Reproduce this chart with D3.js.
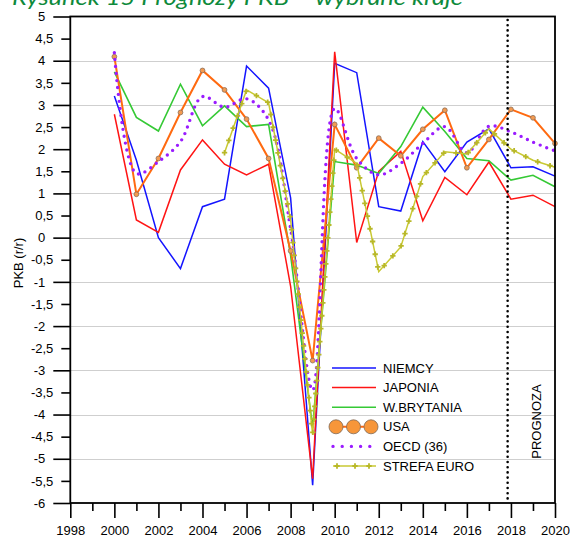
<!DOCTYPE html>
<html><head><meta charset="utf-8">
<script src="https://cdn.jsdelivr.net/npm/d3@7"></script>
<style>
html,body{margin:0;padding:0;background:#fff;}
svg{display:block;font-family:"Liberation Sans",Arial,sans-serif;}
</style></head>
<body>
<script>
// ---- data ----
const years = [2000,2001,2002,2003,2004,2005,2006,2007,2008,2009,2010,2011,2012,2013,2014,2015,2016,2017,2018,2019,2020];
const niemcy  = [3.2,1.75,0.0,-0.7,0.7,0.87,3.88,3.38,0.9,-5.6,3.94,3.73,0.7,0.6,2.17,1.49,2.16,2.46,1.58,1.6,1.39];
const japonia = [2.79,0.4,0.12,1.53,2.21,1.66,1.42,1.66,-1.1,-5.45,4.2,-0.11,1.5,1.95,0.38,1.36,0.97,1.71,0.87,0.96,0.7];
const brytania= [3.75,2.72,2.41,3.47,2.53,2.98,2.51,2.56,-0.4,-4.3,1.72,1.64,1.45,2.06,2.95,2.4,1.79,1.74,1.3,1.41,1.15];
const usa     = [4.09,0.98,1.79,2.83,3.78,3.34,2.68,1.79,-0.3,-2.78,2.56,1.58,2.25,1.85,2.45,2.88,1.58,2.22,2.9,2.71,2.13];
const oecd    = [4.18,1.45,1.72,2.17,3.19,2.95,3.14,2.66,0.2,-3.45,2.92,1.79,1.42,1.68,2.13,2.51,1.92,2.52,2.39,2.16,1.96];
const euro    = [null,null,null,null,null,1.92,3.34,3.05,0.4,-4.45,2.0,1.68,-0.77,-0.21,1.38,1.94,1.89,2.46,2.0,1.75,1.59];
const seriesNames = ["NIEMCY","JAPONIA","W.BRYTANIA","USA","OECD (36)","STREFA EURO"];
const xTicks = [1998,1999,2000,2001,2002,2003,2004,2005,2006,2007,2008,2009,2010,2011,2012,2013,2014,2015,2016,2017,2018,2019,2020];
const xLabels = [1998,2000,2002,2004,2006,2008,2010,2012,2014,2016,2018,2020];
const yMajor = [-6,-5,-4,-3,-2,-1,0,1,2,3,4,5];
const yMinor = [-5.5,-4.5,-3.5,-2.5,-1.5,-0.5,0.5,1.5,2.5,3.5,4.5];
const gridValues = [-5,-4,-3,-2,-1,0,1,3,4];
const forecastStart = 2017.85;
const title = "Rysunek 15 Prognozy PKB – wybrane kraje";
const yTitle = "PKB (r/r)";
const forecastLabel = "PROGNOZA";

// ---- layout ----
const W = 570, H = 539;
const L = 70.3, R = 555, T = 16.5, B = 503;
const svg = d3.select("body").append("svg").attr("width", W).attr("height", H);
const x = d3.scaleLinear().domain([1998, 2020]).range([L, R]);
const y = d3.scaleLinear().domain([-6, 5]).range([B, T]);
const fmt = v => String(v).replace(".", ",");

// title (cut off at top, as in the source)
svg.append("text").attr("x", 12).attr("y", 5)
  .attr("font-family", "Lato, 'Open Sans', sans-serif").attr("font-style", "italic")
  .attr("font-size", 22).attr("fill", "#0e8a3c")
  .attr("textLength", 451).attr("lengthAdjust", "spacingAndGlyphs")
  .text(title);

// grid
svg.append("g").selectAll("line").data(gridValues).join("line")
  .attr("x1", L).attr("x2", R).attr("y1", d => Math.round(y(d)) + 0.5).attr("y2", d => Math.round(y(d)) + 0.5)
  .attr("stroke", "#cfcfcf").attr("stroke-width", 1);

// y axis
const yAxMaj = svg.append("g").attr("transform", `translate(${L},0)`)
  .call(d3.axisLeft(y).tickValues(yMajor).tickSize(17).tickPadding(8).tickFormat(fmt));
const yAxMin = svg.append("g").attr("transform", `translate(${L},0)`)
  .call(d3.axisLeft(y).tickValues(yMinor).tickSize(9).tickPadding(8).tickFormat(fmt));
// x axis
const xAxMaj = svg.append("g").attr("transform", `translate(0,${B})`)
  .call(d3.axisBottom(x).tickValues(xLabels).tickSize(15).tickPadding(8).tickFormat(d3.format("d")));
const xAxMin = svg.append("g").attr("transform", `translate(0,${B})`)
  .call(d3.axisBottom(x).tickValues(xTicks.filter(t => !xLabels.includes(t))).tickSize(8).tickFormat(""));
[yAxMaj, yAxMin, xAxMaj, xAxMin].forEach(g => {
  g.select(".domain").remove();
  g.selectAll(".tick line").attr("stroke", "#000").attr("stroke-width", 1.6);
  g.selectAll(".tick text").attr("font-size", 13).attr("fill", "#000")
    .attr("font-family", "'Liberation Sans', Arial, sans-serif");
});

// y title
svg.append("text").attr("transform", `translate(23,263) rotate(-90)`)
  .attr("text-anchor", "middle").attr("font-size", 13).text(yTitle);

// series
const line = d3.line().defined(d => d[1] != null).x(d => x(d[0])).y(d => y(d[1]));
const pts = arr => years.map((yr, i) => [yr, arr[i]]);
const gS = svg.append("g");
gS.append("path").datum(pts(niemcy)).attr("d", line).attr("fill", "none").attr("stroke", "#1414ff").attr("stroke-width", 1.5);
gS.append("path").datum(pts(japonia)).attr("d", line).attr("fill", "none").attr("stroke", "#ff1414").attr("stroke-width", 1.5);
gS.append("path").datum(pts(brytania)).attr("d", line).attr("fill", "none").attr("stroke", "#35c935").attr("stroke-width", 1.6);
gS.append("path").datum(pts(usa)).attr("d", line).attr("fill", "none").attr("stroke", "#ff6a10").attr("stroke-width", 2);
gS.append("g").selectAll("circle").data(pts(usa)).join("circle")
  .attr("cx", d => x(d[0])).attr("cy", d => y(d[1])).attr("r", 2.4)
  .attr("fill", "#f39a50").attr("stroke", "#8a6f5a").attr("stroke-width", 0.8);
gS.append("path").datum(pts(oecd)).attr("d", line.curve(d3.curveCatmullRom.alpha(0.5))).attr("fill", "none")
  .attr("stroke", "#9a1cff").attr("stroke-width", 3.4).attr("stroke-linecap", "round").attr("stroke-dasharray", "0 7");
line.curve(d3.curveLinear);
const euroPath = gS.append("path").datum(pts(euro)).attr("d", line).attr("fill", "none")
  .attr("stroke", "#c9c933").attr("stroke-width", 1.5);
const cross = d3.symbol().type(d3.symbolCross).size(16);
const node = euroPath.node(), len = node.getTotalLength();
const mk = [];
for (let s = 0; s <= len; s += 13) { const p = node.getPointAtLength(s); mk.push([p.x, p.y]); }
gS.append("g").selectAll("path").data(mk).join("path")
  .attr("d", cross).attr("transform", d => `translate(${d[0]},${d[1]})`).attr("fill", "#b8b828");

// forecast line
svg.append("line").attr("x1", x(forecastStart)).attr("x2", x(forecastStart)).attr("y1", 20).attr("y2", B)
  .attr("stroke", "#000").attr("stroke-width", 2.6).attr("stroke-linecap", "round").attr("stroke-dasharray", "0 5.2");
svg.append("text").attr("transform", `translate(541,421.5) rotate(-90)`)
  .attr("text-anchor", "middle").attr("font-size", 13).text(forecastLabel);

// frame
svg.append("rect").attr("x", L).attr("y", T).attr("width", R - L).attr("height", B - T)
  .attr("fill", "none").attr("stroke", "#000").attr("stroke-width", 1.8);

// legend
const lg = svg.append("g");
const lx1 = 332, lx2 = 376, ltx = 383, ly0 = 368, ldy = 19.6;
seriesNames.forEach((n, i) => {
  lg.append("text").attr("x", ltx).attr("y", ly0 + i * ldy).attr("dy", "0.35em").attr("font-size", 13).text(n);
});
lg.append("line").attr("x1", lx1).attr("x2", lx2).attr("y1", ly0).attr("y2", ly0).attr("stroke", "#1414ff").attr("stroke-width", 1.5);
lg.append("line").attr("x1", lx1).attr("x2", lx2).attr("y1", ly0 + ldy).attr("y2", ly0 + ldy).attr("stroke", "#ff1414").attr("stroke-width", 1.5);
lg.append("line").attr("x1", lx1).attr("x2", lx2).attr("y1", ly0 + 2 * ldy).attr("y2", ly0 + 2 * ldy).attr("stroke", "#35c935").attr("stroke-width", 1.6);
lg.append("line").attr("x1", 336).attr("x2", 371).attr("y1", ly0 + 3 * ldy).attr("y2", ly0 + 3 * ldy).attr("stroke", "#ff6a10").attr("stroke-width", 2);
lg.selectAll("circle.lc").data([336, 353.5, 371]).join("circle").attr("class", "lc")
  .attr("cx", d => d).attr("cy", ly0 + 3 * ldy).attr("r", 7)
  .attr("fill", "#f7963a").attr("stroke", "#7f6a58").attr("stroke-width", 0.8);
lg.append("line").attr("x1", 333).attr("x2", 376).attr("y1", ly0 + 4 * ldy).attr("y2", ly0 + 4 * ldy)
  .attr("stroke", "#9a1cff").attr("stroke-width", 3.4).attr("stroke-linecap", "round").attr("stroke-dasharray", "0 9.2");
lg.append("line").attr("x1", 333).attr("x2", 376).attr("y1", ly0 + 5 * ldy).attr("y2", ly0 + 5 * ldy).attr("stroke", "#c9c933").attr("stroke-width", 1.5);
lg.selectAll("path.lm").data([337, 355, 369]).join("path").attr("class", "lm")
  .attr("d", cross).attr("transform", d => `translate(${d},${ly0 + 5 * ldy})`).attr("fill", "#b8b828");
</script>
</body></html>
